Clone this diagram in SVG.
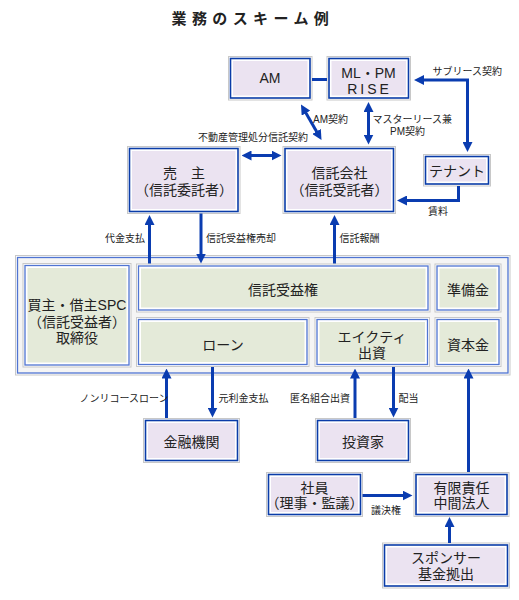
<svg xmlns="http://www.w3.org/2000/svg" width="519" height="600" viewBox="0 0 519 600">
<style>
text{font-family:"Liberation Sans","Noto Sans CJK JP",sans-serif;fill:#222;}
.t{font-size:14px;text-anchor:middle;}
.l{font-size:10px;}
.o{fill:#fff;stroke:#c8c8c8;stroke-width:1;}
.b{fill:#fff;stroke:#0a3ca8;stroke-width:1.6;}
.f{fill:#ebe3f1;}
.bg{fill:#fff;stroke:#4f74d2;stroke-width:1.3;}
.fg{fill:#e4ead9;}
.c{fill:none;stroke:#0a3cb0;stroke-width:3;}
</style>
<defs>
<marker id="ah" viewBox="0 0 10 10" refX="5" refY="5" markerWidth="10" markerHeight="10" markerUnits="userSpaceOnUse" orient="auto-start-reverse">
<path d="M0,0 L10,5 L0,10 z" fill="#0a3cb0"/>
</marker>
</defs>
<rect width="519" height="600" fill="#fff"/>
<text x="171.5" y="23.5" style="font-size:15px;font-weight:bold;letter-spacing:5.4px;">業務のスキーム例</text>

<g id="am">
<rect class="o" x="228.5" y="56.5" width="83.5" height="43.5"/>
<rect class="b" x="230.5" y="58.5" width="79.5" height="39.5"/>
<rect class="f" x="233" y="61" width="74.5" height="34.5"/>
<text class="t" x="270" y="83">AM</text>
</g>
<g id="mlpm">
<rect class="o" x="327" y="56.5" width="83.5" height="43.5"/>
<rect class="b" x="329" y="58.5" width="79.5" height="39.5"/>
<rect class="f" x="331.5" y="61" width="74.5" height="34.5"/>
<text class="t" x="368.5" y="78">ML・PM</text>
<text class="t" x="369.5" y="94" style="letter-spacing:3px;">RISE</text>
</g>
<g id="seller">
<rect class="o" x="127.5" y="146.5" width="112.5" height="67"/>
<rect class="b" x="129.5" y="148.5" width="108.5" height="63"/>
<rect class="f" x="132" y="151" width="103.5" height="58"/>
<text class="t" x="184" y="178">売　主</text>
<text class="t" x="184" y="194.5">（信託委託者）</text>
</g>
<g id="trust">
<rect class="o" x="283" y="146.5" width="112.5" height="67"/>
<rect class="b" x="285" y="148.5" width="108.5" height="63"/>
<rect class="f" x="287.5" y="151" width="103.5" height="58"/>
<text class="t" x="339.5" y="178">信託会社</text>
<text class="t" x="339.5" y="194.5">（信託受託者）</text>
</g>
<g id="tenant">
<rect class="o" x="423.5" y="154.5" width="67" height="31.5"/>
<rect class="b" x="425.5" y="156.5" width="63" height="27.5"/>
<rect class="f" x="428" y="159" width="58" height="22.5"/>
<text class="t" x="457" y="175.5">テナント</text>
</g>

<g id="spc-container">
<rect x="15.5" y="255.5" width="494.5" height="119.5" fill="#fff" stroke="#c8c8c8"/>
<rect x="17.5" y="257.5" width="490.5" height="115.5" fill="#f5f5f5" stroke="#4f74d2" stroke-width="1.3"/>
</g>
<g id="buyer">
<rect class="o" x="23" y="263.5" width="108" height="103.5"/>
<rect class="bg" x="25" y="265.5" width="104" height="99.5"/>
<rect class="fg" x="27.5" y="268" width="99" height="94.5"/>
<text class="t" x="77" y="310">買主・借主SPC</text>
<text class="t" x="77" y="326.5">（信託受益者）</text>
<text class="t" x="77" y="343">取締役</text>
</g>
<g id="beneficial">
<rect class="o" x="136.5" y="264" width="293.5" height="48"/>
<rect class="bg" x="138.5" y="266" width="289.5" height="44"/>
<rect class="fg" x="141" y="268.5" width="284.5" height="39"/>
<text class="t" x="283" y="295">信託受益権</text>
</g>
<g id="reserve">
<rect class="o" x="435" y="264" width="66" height="48"/>
<rect class="bg" x="437" y="266" width="62" height="44"/>
<rect class="fg" x="439.5" y="268.5" width="57" height="39"/>
<text class="t" x="468" y="295">準備金</text>
</g>
<g id="loan">
<rect class="o" x="136.5" y="317.5" width="172.5" height="49"/>
<rect class="bg" x="138.5" y="319.5" width="168.5" height="45"/>
<rect class="fg" x="141" y="322" width="163.5" height="40"/>
<text class="t" x="223" y="349.5">ローン</text>
</g>
<g id="equity">
<rect class="o" x="315" y="317.5" width="114.5" height="49"/>
<rect class="bg" x="317" y="319.5" width="110.5" height="45"/>
<rect class="fg" x="319.5" y="322" width="105.5" height="40"/>
<text class="t" x="372" y="341.5">エイクティ</text>
<text class="t" x="372" y="357.5">出資</text>
</g>
<g id="capital">
<rect class="o" x="435" y="317.5" width="66" height="49"/>
<rect class="bg" x="437" y="319.5" width="62" height="45"/>
<rect class="fg" x="439.5" y="322" width="57" height="40"/>
<text class="t" x="468" y="350">資本金</text>
</g>

<g id="bank">
<rect class="o" x="143.5" y="418.5" width="96" height="44"/>
<rect class="b" x="145.5" y="420.5" width="92" height="40"/>
<rect class="f" x="148" y="423" width="87" height="35"/>
<text class="t" x="191.5" y="446.5">金融機関</text>
</g>
<g id="investor">
<rect class="o" x="315.5" y="418.5" width="95" height="44"/>
<rect class="b" x="317.5" y="420.5" width="91" height="40"/>
<rect class="f" x="320" y="423" width="86" height="35"/>
<text class="t" x="363" y="446.5">投資家</text>
</g>
<g id="members">
<rect class="o" x="266.5" y="472.5" width="96" height="44"/>
<rect class="b" x="268.5" y="474.5" width="92" height="40"/>
<rect class="f" x="271" y="477" width="87" height="35"/>
<text class="t" x="314.5" y="493">社員</text>
<text class="t" x="314.5" y="508">（理事・監議）</text>
</g>
<g id="chukan">
<rect class="o" x="414" y="472.5" width="95" height="44"/>
<rect class="b" x="416" y="474.5" width="91" height="40"/>
<rect class="f" x="418.5" y="477" width="86" height="35"/>
<text class="t" x="461.5" y="493">有限責任</text>
<text class="t" x="461.5" y="508">中間法人</text>
</g>
<g id="sponsor">
<rect class="o" x="382.5" y="543" width="127" height="45"/>
<rect class="b" x="384.5" y="545" width="123" height="41"/>
<rect class="f" x="387" y="547.5" width="118" height="36"/>
<text class="t" x="446" y="563">スポンサー</text>
<text class="t" x="446" y="579">基金拠出</text>
</g>

<g id="connectors">
<line class="c" x1="312" y1="79.5" x2="327" y2="79.5"/>
<line class="c" x1="303.5" y1="108.8" x2="319" y2="135.7" marker-start="url(#ah)" marker-end="url(#ah)"/>
<line class="c" x1="368.5" y1="107" x2="368.5" y2="139.5" marker-start="url(#ah)" marker-end="url(#ah)"/>
<line class="c" x1="246.5" y1="155.5" x2="276.5" y2="155.5" marker-start="url(#ah)" marker-end="url(#ah)"/>
<polyline class="c" points="419,80 467.5,80 467.5,147" marker-start="url(#ah)" marker-end="url(#ah)"/>
<polyline class="c" points="458.5,186 458.5,200.5 402,200.5" marker-end="url(#ah)"/>
<line class="c" x1="149.5" y1="263.5" x2="149.5" y2="220" marker-end="url(#ah)"/>
<line class="c" x1="201" y1="213.5" x2="201" y2="258.5" marker-end="url(#ah)"/>
<line class="c" x1="334.5" y1="263.5" x2="334.5" y2="220" marker-end="url(#ah)"/>
<line class="c" x1="166.5" y1="418" x2="166.5" y2="373.5" marker-end="url(#ah)"/>
<line class="c" x1="212.5" y1="367" x2="212.5" y2="412.5" marker-end="url(#ah)"/>
<line class="c" x1="355" y1="418" x2="355" y2="373.5" marker-end="url(#ah)"/>
<line class="c" x1="393.5" y1="367" x2="393.5" y2="412.5" marker-end="url(#ah)"/>
<line class="c" x1="468.5" y1="472" x2="468.5" y2="373.5" marker-end="url(#ah)"/>
<line class="c" x1="362.5" y1="495.5" x2="407.5" y2="495.5" marker-end="url(#ah)"/>
<line class="c" x1="449.5" y1="543" x2="449.5" y2="522" marker-end="url(#ah)"/>
</g>

<g id="labels">
<text class="l" x="198" y="140.5">不動産管理処分信託契約</text>
<text class="l" x="313" y="123">AM契約</text>
<text class="l" x="372.5" y="123">マスターリース兼</text>
<text class="l" x="390" y="134.5">PM契約</text>
<text class="l" x="432.5" y="74.5">サブリース契約</text>
<text class="l" x="428" y="215">賃料</text>
<text class="l" x="105" y="241.5">代金支払</text>
<text class="l" x="206" y="241.5">信託受益権売却</text>
<text class="l" x="339.5" y="241.5">信託報酬</text>
<text class="l" x="79.5" y="401.5">ノンリコースローン</text>
<text class="l" x="218.5" y="401.5">元利金支払</text>
<text class="l" x="290" y="401.5">匿名組合出資</text>
<text class="l" x="398.5" y="401.5">配当</text>
<text class="l" x="371" y="514">議決権</text>
</g>
</svg>
